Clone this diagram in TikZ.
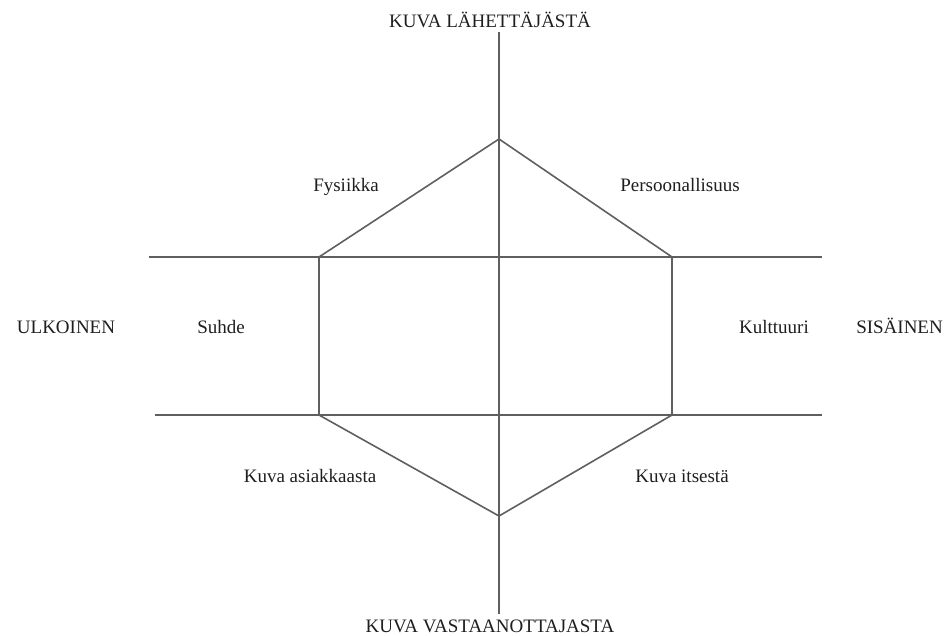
\documentclass[tikz,border=0pt]{standalone}
\usepackage{fontspec}
\setmainfont{Liberation Serif}
\usetikzlibrary{positioning}
\definecolor{axisgray}{RGB}{95,95,95}
\definecolor{labelink}{RGB}{30,30,30}
\tikzset{
	lbl/.style = {inner sep=0pt, anchor=base, text=labelink,
	 font=\fontsize{19}{22}\selectfont}}
\tikzset{
	axisline/.style = {draw=axisgray, line width=1.6pt}}

\begin{document}
\begin{tikzpicture}[x=1pt, y=-1pt, line join=round]
\useasboundingbox (0,0) rectangle (944,635);

% COORDINATES
% hexagon
\coordinate (htop) at (499,139);
\coordinate (hrt) at (672,257);
\coordinate (hrb) at (672,415);
\coordinate (hbot) at (499,516);
\coordinate (hlb) at (319,415);
\coordinate (hlt) at (319,257);
% axes
\coordinate (vtop) at (499,32);
\coordinate (vbot) at (499,614);
\coordinate (upl) at (149,257);
\coordinate (upr) at (822,257);
\coordinate (lowl) at (155,415);
\coordinate (lowr) at (822,415);

% NODES
\node (sender) [lbl] at (490,27) {KUVA LÄHETTÄJÄSTÄ};
\node (receiver) [lbl] at (490,632) {KUVA VASTAANOTTAJASTA};
\node (outer) [lbl] at (66,333) {ULKOINEN};
\node (inner) [lbl, anchor=base east] at (943,333) {SISÄINEN};
\node (suhde) [lbl] at (221,333) {Suhde};
\node (kult) [lbl] at (774,333) {Kulttuuri};
\node (fys) [lbl] at (346,191) {Fysiikka};
\node (pers) [lbl] at (680,191) {Persoonallisuus};
\node (asiak) [lbl] at (310,482) {Kuva asiakkaasta};
\node (itse) [lbl] at (682,482) {Kuva itsestä};

% CONNECTIONS
\draw [axisline] (vtop) -- (vbot);
\draw [axisline] (upl) -- (upr);
\draw [axisline] (lowl) -- (lowr);
\draw [axisline] (htop) -- (hrt) -- (hrb) -- (hbot) -- (hlb) -- (hlt) -- cycle;

\end{tikzpicture}
\end{document}
